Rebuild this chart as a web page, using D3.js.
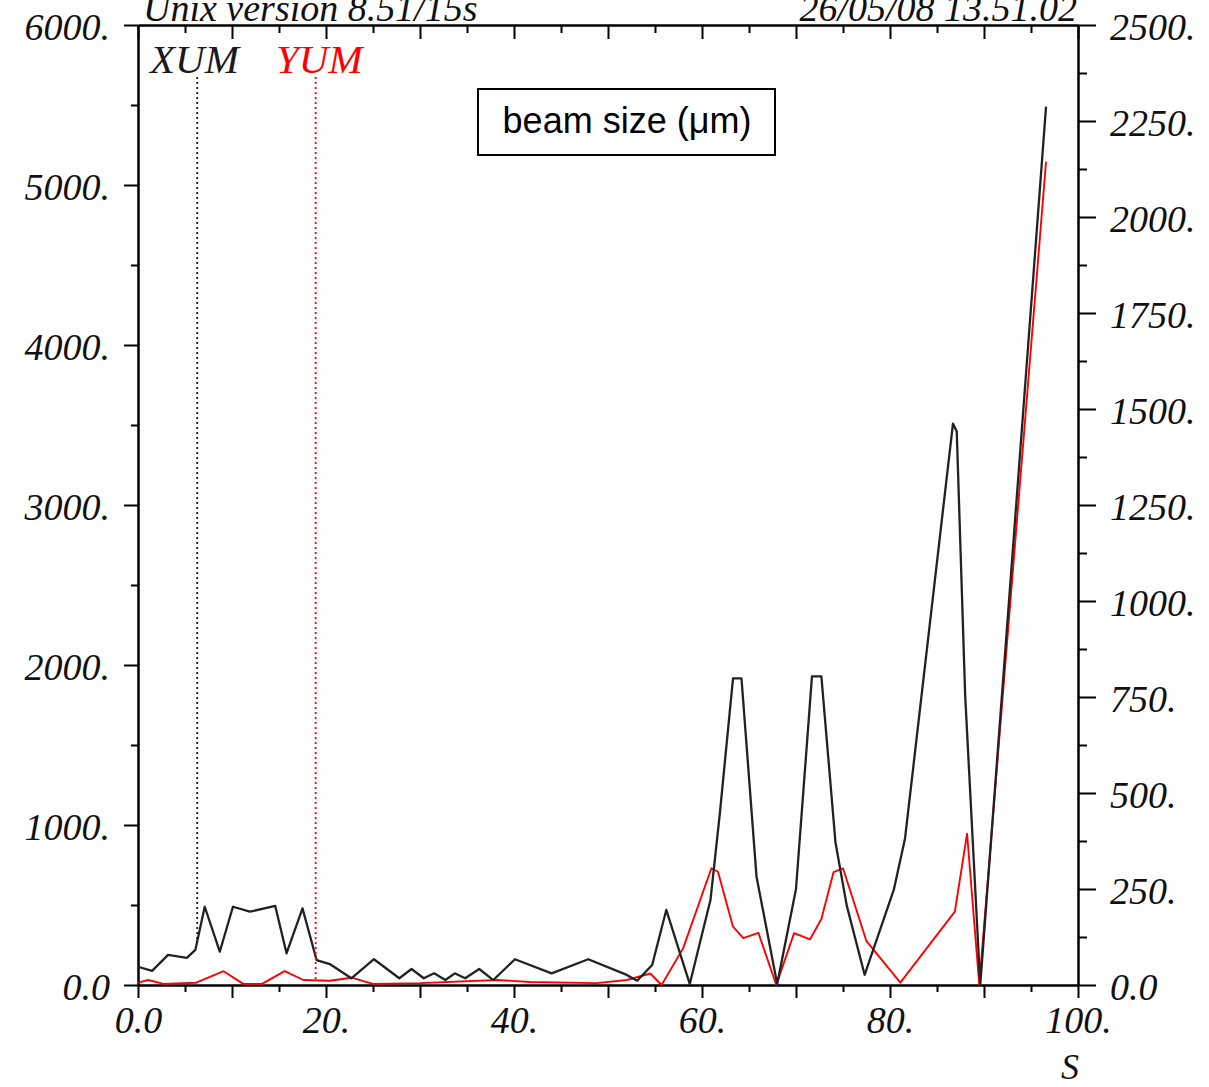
<!DOCTYPE html>
<html><head><meta charset="utf-8">
<script src="https://cdn.jsdelivr.net/npm/d3@7"></script>
<style>body{margin:0;background:#fff}</style>
</head><body>
<svg id="c" width="1209" height="1087"></svg>
<script>
// ---- data ----
const sXum = [0, 1.5, 3.2, 5.2, 6.1, 7.1, 8.7, 10.1, 11.9, 14.6, 15.8, 17.5, 19.0, 20.4, 22.7, 25.1, 27.8, 29.1, 30.4, 31.5, 32.7, 33.7, 34.8, 36.3, 37.8, 40.1, 44.0, 47.9, 52.0, 53.1, 54.7, 56.2, 58.7, 60.9, 61.9, 63.3, 64.2, 65.8, 68.0, 70.0, 71.7, 72.7, 74.2, 75.4, 77.3, 80.4, 81.6, 86.7, 87.1, 88.0, 89.6, 96.6];
const xum  = [114, 88, 188, 169, 219, 489, 208, 489, 458, 494, 198, 479, 156, 131, 42, 161, 42, 100, 42, 73, 31, 73, 42, 100, 31, 161, 73, 161, 63, 27, 125, 469, 6, 531, 1073, 1917, 1917, 677, 6, 600, 1929, 1929, 891, 496, 64, 594, 916, 3509, 3460, 1806, 0, 5490];
const sYum = [0, 1.1, 2.7, 6.2, 9.1, 11.2, 13.2, 15.6, 17.6, 20.4, 22.7, 25.0, 30.0, 38.2, 41.7, 48.8, 52.0, 54.5, 55.7, 58.0, 61.0, 61.7, 63.3, 64.4, 66.0, 67.9, 69.8, 71.5, 72.7, 74.0, 75.0, 77.5, 81.1, 86.9, 88.2, 89.5, 96.6];
const yum  = [6, 13, 3, 6, 36, 3, 3, 36, 13, 11, 19, 3, 5, 13, 8, 5, 13, 30, 0, 96, 304, 295, 152, 122, 136, 0, 135, 119, 172, 294, 304, 114, 6, 191, 394, 0, 2144];
const seriesNames = ["XUM", "YUM"];
const markerPos = [6.3, 18.9];
const xMajorTicks = [0, 10, 20, 30, 40, 50, 60, 70, 80, 90, 100];
const xMinorTicks = [5, 15, 25, 35, 45, 55, 65, 75, 85, 95];
const xLabeled = [0, 20, 40, 60, 80, 100];
const leftMajor = [0, 1000, 2000, 3000, 4000, 5000, 6000];
const leftMinor = [500, 1500, 2500, 3500, 4500, 5500];
const rightMajor = [0, 250, 500, 750, 1000, 1250, 1500, 1750, 2000, 2250, 2500];
const rightMinor = [125, 375, 625, 875, 1125, 1375, 1625, 1875, 2125, 2375];
const headerLeft = "Unix version 8.51/15s";
const headerRight = "26/05/08  13.51.02";
const boxLabel = "beam size (\u03bcm)";
const xTitle = "S";

// ---- layout ----
const L = 138, R = 1078, T = 25, B = 985;
const svg = d3.select("#c");
const x = d3.scaleLinear().domain([0, 100]).range([L, R]);
const yL = d3.scaleLinear().domain([0, 6000]).range([B, T]);
const yR = d3.scaleLinear().domain([0, 2500]).range([B, T]);
const fmt = d => d === 0 ? "0.0" : d + ".";
const serif = "'Liberation Serif','Times New Roman',serif";

function styleAxis(g) {
  g.selectAll("path.domain").attr("stroke", "#000").attr("stroke-width", 2);
  g.selectAll(".tick line").attr("stroke", "#000").attr("stroke-width", 2);
  g.selectAll("text").attr("font-family", serif).attr("font-style", "italic")
    .attr("font-size", 38).attr("fill", "#111");
}

// bottom
svg.append("g").attr("transform", `translate(0,${B})`)
  .call(d3.axisBottom(x).tickValues(xMajorTicks).tickSize(13).tickSizeOuter(0).tickPadding(8)
    .tickFormat(d => xLabeled.includes(d) ? fmt(d) : ""))
  .call(styleAxis);
svg.append("g").attr("transform", `translate(0,${B})`)
  .call(d3.axisBottom(x).tickValues(xMinorTicks).tickSize(7).tickSizeOuter(0).tickFormat(""))
  .call(styleAxis);
// top (ticks pointing inward)
svg.append("g").attr("transform", `translate(0,${T})`)
  .call(d3.axisBottom(x).tickValues(xMajorTicks).tickSize(14).tickSizeOuter(0).tickFormat(""))
  .call(styleAxis);
svg.append("g").attr("transform", `translate(0,${T})`)
  .call(d3.axisBottom(x).tickValues(xMinorTicks).tickSize(8).tickSizeOuter(0).tickFormat(""))
  .call(styleAxis);
// left
svg.append("g").attr("class", "vax").attr("transform", `translate(${L},0)`)
  .call(d3.axisLeft(yL).tickValues(leftMajor).tickSize(14).tickSizeOuter(0).tickPadding(14).tickFormat(fmt))
  .call(styleAxis);
svg.append("g").attr("transform", `translate(${L},0)`)
  .call(d3.axisLeft(yL).tickValues(leftMinor).tickSize(7).tickSizeOuter(0).tickFormat(""))
  .call(styleAxis);
// right
svg.append("g").attr("class", "vax").attr("transform", `translate(${R},0)`)
  .call(d3.axisRight(yR).tickValues(rightMajor).tickSize(18).tickSizeOuter(0).tickPadding(14).tickFormat(fmt))
  .call(styleAxis);
svg.append("g").attr("transform", `translate(${R},0)`)
  .call(d3.axisRight(yR).tickValues(rightMinor).tickSize(9).tickSizeOuter(0).tickFormat(""))
  .call(styleAxis);

svg.selectAll("g.vax .tick text").attr("dy", "0.38em");

// header texts
svg.append("text").attr("x", 143).attr("y", 21).text(headerLeft)
  .attr("font-family", serif).attr("font-style", "italic").attr("font-size", 38).attr("fill", "#111");
svg.append("text").attr("x", 1077).attr("y", 21).attr("text-anchor", "end").text(headerRight)
  .attr("font-family", serif).attr("font-style", "italic").attr("font-size", 38).attr("fill", "#111");
svg.append("text").attr("x", 1070).attr("y", 1079).attr("text-anchor", "middle").text(xTitle)
  .attr("font-family", serif).attr("font-style", "italic").attr("font-size", 36).attr("fill", "#111");

// data lines
const dX = sXum.map((s, i) => [s, xum[i]]);
const dY = sYum.map((s, i) => [s, yum[i]]);
svg.append("path").datum(dY)
  .attr("d", d3.line().x(d => x(d[0])).y(d => yR(d[1])))
  .attr("fill", "none").attr("stroke", "#ff0000").attr("stroke-width", 1.9)
  .attr("stroke-linejoin", "round");
svg.append("path").datum(dX)
  .attr("d", d3.line().x(d => x(d[0])).y(d => yL(d[1])))
  .attr("fill", "none").attr("stroke", "#222").attr("stroke-width", 2.3)
  .attr("stroke-linejoin", "round");

// legend labels + marker dotted lines
function interp(sArr, vArr, s) {
  for (let i = 0; i < sArr.length - 1; i++) {
    if (s >= sArr[i] && s <= sArr[i + 1]) {
      const t = (s - sArr[i]) / (sArr[i + 1] - sArr[i]);
      return vArr[i] + t * (vArr[i + 1] - vArr[i]);
    }
  }
  return 0;
}
const colors = ["#1a1a1a", "#ff0000"];
const labelX = [150, 276];
const markerEnd = [yL(interp(sXum, xum, markerPos[0])), yR(interp(sYum, yum, markerPos[1]))];
seriesNames.forEach((n, i) => {
  svg.append("text").attr("x", labelX[i]).attr("y", 73).text(n)
    .attr("font-family", serif).attr("font-style", "italic").attr("font-size", 41).attr("fill", colors[i]);
  svg.append("line").attr("x1", x(markerPos[i])).attr("x2", x(markerPos[i]))
    .attr("y1", 77).attr("y2", markerEnd[i])
    .attr("stroke", colors[i]).attr("stroke-width", 1.8).attr("stroke-dasharray", "2,3");
});

// box label
svg.append("rect").attr("x", 478).attr("y", 89).attr("width", 297).attr("height", 66)
  .attr("fill", "#fff").attr("stroke", "#000").attr("stroke-width", 2);
svg.append("text").attr("x", 627).attr("y", 133).attr("text-anchor", "middle").text(boxLabel)
  .attr("font-family", "'Liberation Sans',Arial,sans-serif").attr("font-size", 36).attr("fill", "#000");
</script>
</body></html>
